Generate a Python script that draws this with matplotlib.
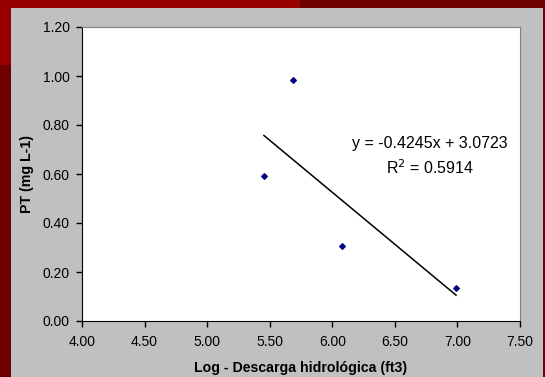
import matplotlib.pyplot as plt
import numpy as np
from matplotlib.patches import Rectangle
from matplotlib.ticker import FormatStrFormatter

# datos
log_descarga = [5.454, 5.686, 6.078, 6.989]
pt_mg_l = [0.592, 0.984, 0.306, 0.135]
pendiente = -0.4245
intercepto = 3.0723
r2 = 0.5914

plt.rcParams['font.family'] = ['Liberation Sans', 'DejaVu Sans']

fig = plt.figure(figsize=(5.45, 3.77), dpi=100)
fig.patch.set_facecolor('#6E0000')

# fondo rojo mas claro arriba a la izquierda
fig.add_artist(Rectangle((0, 1 - 65 / 377), 300 / 545, 65 / 377,
                         transform=fig.transFigure, facecolor='#990000',
                         edgecolor='none', zorder=-3))
# panel gris
fig.add_artist(Rectangle((11 / 545, 0), (543 - 11) / 545, (377 - 8) / 377,
                         transform=fig.transFigure, facecolor='#C0C0C0',
                         edgecolor='none', zorder=-2))

ax = fig.add_axes([82 / 545, (377 - 321) / 377, (520 - 82) / 545, (321 - 27) / 377])
ax.set_facecolor('white')

ax.scatter(log_descarga, pt_mg_l, marker='D', s=8, color='#000080', zorder=3)

xs = np.array([min(log_descarga), max(log_descarga)])
ax.plot(xs, pendiente * xs + intercepto, color='black', linewidth=1.1, zorder=2)

ax.text(6.78, 0.725, 'y = -0.4245x + 3.0723', ha='center', va='center', fontsize=11.5)
ax.text(6.78, 0.625, 'R$^2$ = 0.5914', ha='center', va='center', fontsize=11.5)

ax.set_xlim(4.0, 7.5)
ax.set_ylim(0.0, 1.2)
ax.set_xticks(np.arange(4.0, 7.51, 0.5))
ax.set_yticks(np.arange(0.0, 1.21, 0.2))
ax.xaxis.set_major_formatter(FormatStrFormatter('%.2f'))
ax.yaxis.set_major_formatter(FormatStrFormatter('%.2f'))
ax.tick_params(direction='out', length=4, width=1, labelsize=10, color='black')
ax.tick_params(axis='x', pad=6)
ax.tick_params(axis='y', pad=5)

for s in ['top', 'right']:
    ax.spines[s].set_color('#808080')
for s in ['left', 'bottom']:
    ax.spines[s].set_color('black')

ax.set_xlabel('Log - Descarga hidrológica (ft3)', fontsize=10.2, fontweight='bold', labelpad=9)
ax.set_ylabel('PT (mg L-1)', fontsize=10.2, fontweight='bold', labelpad=6)

fig.savefig('out.png', dpi=100, facecolor=fig.get_facecolor())
